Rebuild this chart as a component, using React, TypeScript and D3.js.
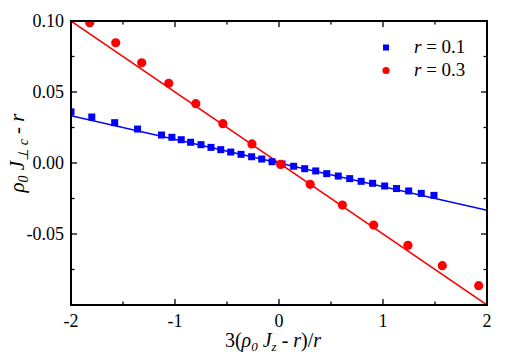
import React from "react";
import * as d3 from "d3";

// r = 0.1 data (blue squares)
const blueX = [-2.0, -1.8, -1.58, -1.36, -1.13, -1.03, -0.94, -0.85, -0.75, -0.654, -0.56, -0.464, -0.365, -0.263, -0.166, -0.067, 0.029, 0.141, 0.247, 0.353, 0.459, 0.57, 0.68, 0.79, 0.9, 1.016, 1.13, 1.247, 1.368, 1.49];
const blueY = [0.036, 0.0324, 0.0284, 0.0239, 0.0197, 0.0181, 0.0164, 0.0146, 0.0129, 0.011, 0.0094, 0.0077, 0.0061, 0.0044, 0.0028, 0.0009, -0.0007, -0.0023, -0.004, -0.0056, -0.0075, -0.0092, -0.011, -0.0129, -0.0143, -0.0162, -0.018, -0.0197, -0.0214, -0.0228];

// r = 0.3 data (red circles)
const redX = [-1.82, -1.57, -1.32, -1.06, -0.8, -0.54, -0.26, 0.016, 0.3, 0.61, 0.91, 1.24, 1.57, 1.92];
const redY = [0.0988, 0.0847, 0.0706, 0.0561, 0.0418, 0.0277, 0.0134, -0.001, -0.015, -0.0296, -0.0437, -0.058, -0.0723, -0.0864];

// fitted lines (end points)
const lineX = [-2, 2];
const blueLineY = [0.0333, -0.0333];
const redLineY = [0.1, -0.1];

const xTicks = [-2, -1, 0, 1, 2];
const xMinor = [-1.5, -0.5, 0.5, 1.5];
const yTicks = [0.1, 0.05, 0, -0.05];
const yMinor = [0.075, 0.025, -0.025, -0.075];

const W = 509;
const H = 357;
const L = 71, R = 487, T = 21, B = 305;
const FONT = "Liberation Serif";

// hyphen instead of unicode minus, like the original
const fmt = (f: string) => (v: number) => d3.format(f)(v).replace("−", "-");

export default function App() {
  const x = d3.scaleLinear().domain([-2, 2]).range([L, R]);
  const y = d3.scaleLinear().domain([-0.1, 0.1]).range([B, T]);
  const line = d3
    .line<number>()
    .x((d, i) => x(lineX[i]))
    .y((d) => y(d));

  const maj = 6;
  const min = 3.5;

  return (
    <div style={{ position: "fixed", left: 0, top: 0 }}>
      <svg width={W} height={H} style={{ display: "block", background: "#fff" }}>
        <defs>
          <clipPath id="plot">
            <rect x={L} y={T} width={R - L} height={B - T} />
          </clipPath>
        </defs>

        <g clipPath="url(#plot)">
          <path d={line(redLineY) || ""} stroke="#ff0000" strokeWidth={1.5} fill="none" />
          <path d={line(blueLineY) || ""} stroke="#0000ff" strokeWidth={1.5} fill="none" />
          {blueX.map((v, i) => (
            <rect key={"b" + i} x={x(v) - 3.5} y={y(blueY[i]) - 3.5} width={7} height={7} fill="#0000ff" />
          ))}
          {redX.map((v, i) => (
            <circle key={"r" + i} cx={x(v)} cy={y(redY[i])} r={4.6} fill="#ff0000" />
          ))}
        </g>

        {/* ticks, inward on all four sides */}
        <g stroke="#000" strokeWidth={1.3}>
          {xTicks.map((t) => (
            <g key={"xt" + t}>
              <line x1={x(t)} x2={x(t)} y1={B} y2={B - maj} />
              <line x1={x(t)} x2={x(t)} y1={T} y2={T + maj} />
            </g>
          ))}
          {xMinor.map((t) => (
            <g key={"xm" + t}>
              <line x1={x(t)} x2={x(t)} y1={B} y2={B - min} />
              <line x1={x(t)} x2={x(t)} y1={T} y2={T + min} />
            </g>
          ))}
          {yTicks.map((t) => (
            <g key={"yt" + t}>
              <line x1={L} x2={L + maj} y1={y(t)} y2={y(t)} />
              <line x1={R} x2={R - maj} y1={y(t)} y2={y(t)} />
            </g>
          ))}
          {yMinor.map((t) => (
            <g key={"ym" + t}>
              <line x1={L} x2={L + min} y1={y(t)} y2={y(t)} />
              <line x1={R} x2={R - min} y1={y(t)} y2={y(t)} />
            </g>
          ))}
        </g>
        <rect x={L} y={T} width={R - L} height={B - T} fill="none" stroke="#000" strokeWidth={2} />

        <g fill="#000">
          {xTicks.map((t) => (
            <text key={"xl" + t} x={x(t)} y={B + 22} textAnchor="middle" style={{ fontFamily: FONT, fontSize: 18 }}>
              {fmt("d")(t)}
            </text>
          ))}
          {yTicks.map((t) => (
            <text key={"yl" + t} x={L - 7} y={y(t) + 6} textAnchor="end" style={{ fontFamily: FONT, fontSize: 18 }}>
              {fmt(".2f")(t)}
            </text>
          ))}
        </g>

        {/* x axis title */}
        <text x={273} y={347} textAnchor="middle" style={{ fontFamily: FONT, fontSize: 20 }}>
          <tspan>3(</tspan>
          <tspan fontStyle="italic">ρ</tspan>
          <tspan fontStyle="italic" fontSize={13} dy={4}>0</tspan>
          <tspan fontStyle="italic" dy={-4}> J</tspan>
          <tspan fontStyle="italic" fontSize={13} dy={4}>z</tspan>
          <tspan dy={-4}> - </tspan>
          <tspan fontStyle="italic">r</tspan>
          <tspan>)/</tspan>
          <tspan fontStyle="italic">r</tspan>
        </text>

        {/* y axis title */}
        <text
          transform="translate(24,153) rotate(-90)"
          textAnchor="middle"
          style={{ fontFamily: FONT, fontSize: 21 }}
        >
          <tspan fontStyle="italic">ρ</tspan>
          <tspan fontStyle="italic" fontSize={14} dy={4}>0</tspan>
          <tspan fontStyle="italic" dy={-4}> J</tspan>
          <tspan fontStyle="italic" fontSize={14} dy={4}>⊥ c</tspan>
          <tspan dy={-4}> - </tspan>
          <tspan fontStyle="italic">r</tspan>
        </text>

        {/* legend */}
        <rect x={383} y={44.5} width={6} height={6} fill="#0000ff" />
        <text x={414} y={53} xmlSpace="preserve" style={{ fontFamily: FONT, fontSize: 19 }}>
          <tspan fontStyle="italic">r</tspan> = 0.1
        </text>
        <circle cx={386} cy={70.5} r={3.6} fill="#ff0000" />
        <text x={414} y={76} xmlSpace="preserve" style={{ fontFamily: FONT, fontSize: 19 }}>
          <tspan fontStyle="italic">r</tspan> = 0.3
        </text>
      </svg>
    </div>
  );
}
